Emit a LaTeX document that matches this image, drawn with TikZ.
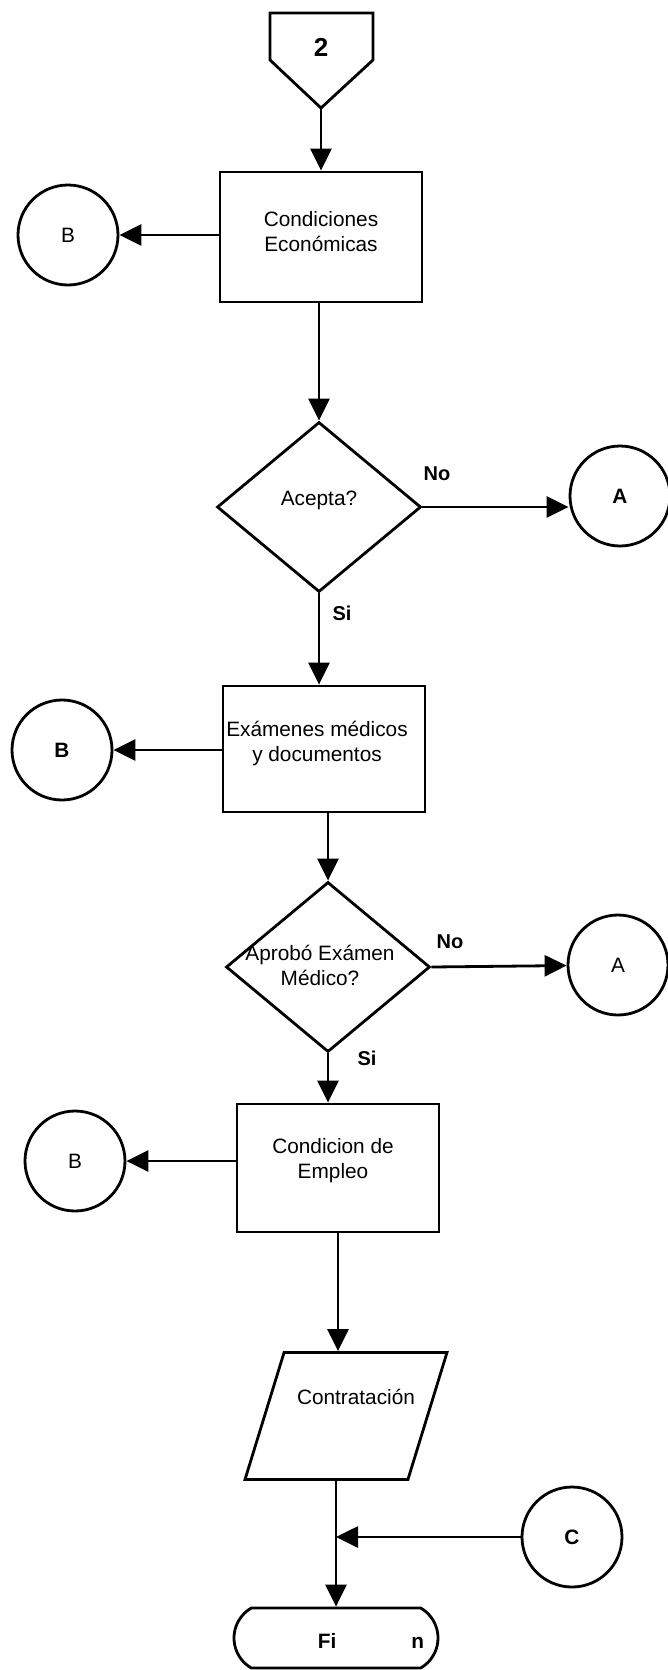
\documentclass[tikz,border=0pt]{standalone}
\usepackage{fontspec}
\setmainfont{Liberation Sans}
\usetikzlibrary{arrows.meta,shapes.geometric,shapes.misc}

\begin{document}
\begin{tikzpicture}[x=1pt,y=-1pt,
  line width=2.8pt,
  every node/.style={font=\fontsize{20.8}{25}\selectfont},
  flow/.style={-{Triangle[length=22pt,width=21pt]}},
  procbox/.style={draw, rectangle, minimum width=202pt, minimum height=128pt, inner sep=0pt},
  decision/.style={draw, diamond, minimum width=204pt, minimum height=170pt, inner sep=0pt},
  connector/.style={draw, circle, minimum size=100pt, inner sep=0pt},
  inout/.style={draw, trapezium, trapezium left angle=72.5, trapezium right angle=107.5,
    trapezium stretches=true, minimum width=202pt, minimum height=127pt, inner sep=6pt},
  terminal/.style={draw, rounded rectangle, rounded rectangle arc length=120,
    minimum width=204pt, minimum height=60pt, inner sep=0pt},
  boxtext/.style={align=center},
  bold/.style={font=\bfseries\fontsize{20.8}{25}\selectfont},
  branch/.style={font=\bfseries\fontsize{20}{24}\selectfont},
]
% page frame
\fill[white] (0,0) rectangle (667,1670);
\useasboundingbox (0,0) rectangle (667,1670);

% off-page connector "2"
\draw (270,13) -- (373,13) -- (373,60) -- (321,108) -- (270,60) -- cycle;
\node[font=\bfseries\fontsize{26}{30}\selectfont] (p2) at (321,47) {2};
\coordinate (p2tip) at (321,108);

% steps
\node[procbox, minimum height=130pt, label={[boxtext, yshift=5pt]center:Condiciones\\Económicas}] (cond) at (321,237) {};
\node[connector] (b1) at (68,235) {B};

\node[decision, label={[yshift=7pt]center:Acepta?}] (acepta) at (319,507) {};
\node[connector, bold] (a1) at (620,496) {A};
\node[branch] (no1) at (437,474) {No};
\node[branch] (si1) at (342,613) {Si};

\node[procbox, minimum height=126pt, label={[boxtext, yshift=6pt, xshift=-7pt]center:Exámenes médicos\\y documentos}] (exam) at (324,749) {};
\node[connector, bold] (b2) at (62,750) {B};

\node[decision, label={[boxtext, yshift=2pt, xshift=-8pt]center:Aprobó Exámen\\Médico?}] (aprobo) at (328,967) {};
\node[connector] (a2) at (618,965) {A};
\node[branch] (no2) at (450,942) {No};
\node[branch] (si2) at (367,1058) {Si};

\node[procbox, label={[boxtext, yshift=7pt, xshift=-5pt]center:Condicion de\\Empleo}] (empleo) at (338,1168) {};
\node[connector] (b3) at (75,1161) {B};

\node[inout, label={[xshift=10pt, yshift=19pt]center:Contratación}] (contr) at (346,1416) {};
\node[connector, bold] (c1) at (572,1537) {C};

\node[terminal, label={[bold, xshift=35pt, yshift=-3pt]center:Fi\hspace{75pt}n}] (fin) at (336,1638) {};

% flow lines
\draw[flow] (p2tip) -- (cond.north);
\draw[flow] (b1.east -| cond.west) -- (b1.east);
\draw[flow] (cond.south -| acepta.north) -- (acepta.north);
\draw[flow] (acepta.east) -- (acepta.east -| a1.west);
\draw[flow] (acepta.south) -- (acepta.south |- exam.north);
\draw[flow] (b2.east -| exam.west) -- (b2.east);
\draw[flow] (exam.south -| aprobo.north) -- (aprobo.north);
\draw[flow] (aprobo.east) -- (a2);
\draw[flow] (aprobo.south) -- (aprobo.south |- empleo.north);
\draw[flow] (b3.east -| empleo.west) -- (b3.east);
\draw[flow] (empleo.south) -- (empleo.south |- contr.north);
\draw[flow] (fin.north |- contr.south) -- (fin.north);
\coordinate (merge) at (fin.north |- c1.west);
\draw[flow] (c1) -- (merge);
\end{tikzpicture}
\end{document}
